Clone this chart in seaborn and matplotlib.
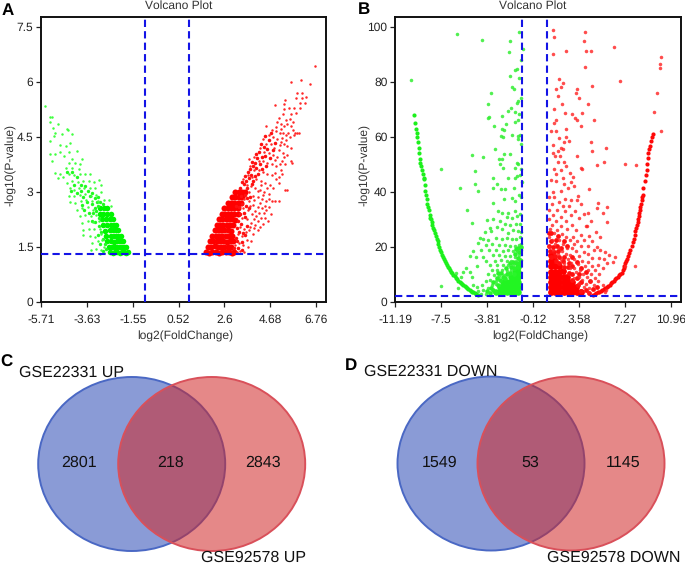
import matplotlib
matplotlib.use("Agg")
import matplotlib.pyplot as plt
from matplotlib.patches import Ellipse
import pandas as pd
import seaborn as sns

# panel A, GSE22331
a_up_core = [
    (1.75,1.35),(1.9,1.34),(2.05,1.36),(2.2,1.35),(2.35,1.34),(2.5,1.36),(2.65,1.35),(2.8,1.35),(2.95,1.34),(3.05,1.36),
    (1.85,1.5),(2.0,1.5),(2.15,1.52),(2.3,1.5),(2.45,1.5),(2.6,1.51),(2.75,1.5),(2.9,1.5),
    (1.95,1.65),(2.1,1.65),(2.25,1.66),(2.4,1.65),(2.55,1.65),(2.7,1.64),(2.85,1.65),(3.0,1.66),
    (2.05,1.8),(2.2,1.8),(2.35,1.81),(2.5,1.8),(2.65,1.8),(2.8,1.79),(2.95,1.8),
    (2.15,1.95),(2.3,1.95),(2.45,1.96),(2.6,1.95),(2.75,1.95),(2.9,1.94),
    (2.25,2.1),(2.4,2.1),(2.55,2.11),(2.7,2.1),(2.85,2.1),(3.0,2.09),
    (2.35,2.25),(2.5,2.25),(2.65,2.26),(2.8,2.25),(2.95,2.25),(3.1,2.24),
    (2.48,2.4),(2.62,2.4),(2.76,2.41),(2.9,2.4),(3.05,2.4),(3.2,2.39),
    (2.6,2.55),(2.75,2.55),(2.9,2.56),(3.05,2.55),(3.2,2.55),
    (2.75,2.7),(2.9,2.7),(3.05,2.71),(3.2,2.7),(3.35,2.7),
    (2.95,2.85),(3.1,2.85),(3.25,2.86),(3.4,2.85),
    (3.1,3.0),(3.25,3.0),(3.4,3.01),(3.55,3.0),
]
a_up_mid = [
    (3.32,3.12),(3.47,3.22),(3.58,3.3),(3.72,3.38),(3.41,3.27),(3.62,3.12),(3.83,3.22),(3.55,3.43),(3.68,3.55),(3.79,3.47),
    (3.9,3.31),(3.98,3.44),(3.75,3.62),(3.88,3.71),(4.02,3.66),(4.12,3.49),(3.83,3.83),(3.97,3.79),(4.08,3.92),(4.23,3.75),
    (4.31,3.62),(4.02,4.03),(4.17,4.08),(4.28,3.96),(4.42,3.97),(4.5,3.72),(4.24,4.3),(4.37,4.22),(4.55,4.17),(4.67,3.93),
    (4.42,4.52),(4.62,4.42),(4.78,4.15),(4.9,4.33),(4.72,4.62),(3.12,2.62),(3.28,2.58),(3.41,2.67),(3.33,2.88),(3.52,2.92),
    (3.63,2.83),(3.58,2.62),(3.77,2.87),(3.22,2.22),(3.31,2.41),(3.48,2.44),(3.18,2.02),(3.37,2.14),(3.55,2.33),(3.72,2.56),
    (3.11,1.74),(3.28,1.92),(3.46,1.88),(3.63,2.08),(3.02,1.47),(3.17,1.67),(3.38,1.63),(3.55,1.82),(3.22,1.47),(3.4,1.42),
]
a_up_scatter = [
    (6.72,6.44),(5.63,6.0),(6.09,6.05),(6.47,5.93),(5.89,5.7),(6.12,5.7),(6.31,5.6),(5.82,5.55),(6.12,5.55),(5.36,5.5),
    (5.29,5.39),(4.88,5.37),(6.0,5.43),(6.27,5.43),(5.51,5.28),(5.74,5.28),(5.29,5.25),(6.04,5.3),(5.26,5.12),(5.6,5.12),
    (5.82,5.16),(5.0,4.9),(5.15,4.85),(5.3,4.8),(5.45,4.85),(5.6,4.8),(5.7,4.7),(4.75,4.7),(4.95,4.65),(5.1,4.6),
    (5.25,4.6),(5.4,4.55),(5.55,4.5),(5.75,4.55),(5.8,4.6),(5.9,4.6),(5.98,4.6),(4.5,4.8),(4.6,4.55),(4.8,4.5),
    (5.0,4.45),(5.15,4.35),(5.3,4.3),(5.45,4.25),(5.6,4.2),(4.35,4.45),(4.5,4.3),(4.7,4.3),(4.85,4.2),(5.05,4.15),
    (5.25,4.05),(5.45,4.0),(5.6,3.85),(5.65,3.8),(4.2,4.2),(4.4,4.1),(4.6,4.05),(4.8,4.0),(5.0,3.95),(5.2,3.85),
    (5.35,3.75),(3.95,3.95),(4.15,3.85),(4.35,3.85),(4.55,3.8),(4.75,3.75),(4.95,3.7),(5.15,3.6),(5.2,3.5),(3.7,3.9),
    (3.75,3.7),(3.95,3.6),(4.15,3.6),(4.35,3.55),(4.55,3.5),(4.75,3.45),(4.95,3.35),(5.05,3.25),(3.65,3.45),(3.85,3.4),
    (4.05,3.35),(4.25,3.3),(4.45,3.25),(4.65,3.2),(4.8,3.1),(5.35,3.05),(5.45,3.05),(3.45,3.35),(3.6,3.2),(3.8,3.15),
    (4.0,3.1),(4.2,3.05),(4.4,3.0),(4.6,2.95),(3.7,3.0),(3.9,2.9),(4.1,2.85),(4.3,2.8),(4.5,2.75),(4.75,2.75),
    (4.9,2.75),(5.05,2.75),(3.5,2.8),(3.7,2.75),(3.9,2.65),(4.1,2.6),(4.3,2.55),(4.5,2.5),(3.45,2.55),(3.65,2.5),
    (3.85,2.4),(4.05,2.35),(4.25,2.3),(4.45,2.3),(4.7,2.4),(3.4,2.3),(3.6,2.25),(3.8,2.15),(4.0,2.1),(4.2,2.05),
    (3.3,2.05),(3.5,2.0),(3.7,1.95),(3.9,1.85),(4.1,1.95),(3.2,1.85),(3.4,1.8),(3.6,1.7),(3.8,1.65),(3.25,1.6),
    (3.45,1.55),(3.65,1.5),(3.1,1.55),(3.3,1.4),(3.5,1.35),(3.15,1.35),
    (4.27,3.18),(4.53,3.12),(4.12,3.02),(4.34,2.92),(4.63,2.82),(3.95,2.77),(4.2,2.71),(4.42,2.63),(4.63,2.6),(3.76,2.62),
    (3.98,2.48),(4.18,2.43),(4.38,2.42),(4.58,2.21),(3.92,2.25),(4.12,2.22),(4.33,2.12),(3.75,2.05),(3.95,2.02),(3.58,1.92),
    (4.9,3.52),(5.08,3.42),(4.88,3.88),(5.12,3.76),(5.28,3.95),(5.1,4.28),(5.22,4.47),(5.38,4.43),(5.5,4.62),(4.93,4.78),
    (5.18,4.72),(5.07,5.02),(5.38,4.95),(5.55,4.98),(5.72,4.92),
]
a_down_core = [
    (-1.75,1.35),(-1.85,1.34),(-1.95,1.36),(-2.05,1.35),(-2.15,1.34),(-2.25,1.36),(-2.35,1.35),(-2.45,1.34),(-2.6,1.36),
    (-1.85,1.5),(-1.95,1.5),(-2.05,1.51),(-2.15,1.5),(-2.25,1.49),(-2.35,1.5),(-2.5,1.5),(-2.65,1.51),
    (-1.98,1.65),(-2.08,1.65),(-2.18,1.66),(-2.28,1.65),(-2.4,1.64),(-2.55,1.65),(-2.7,1.65),
    (-2.1,1.8),(-2.2,1.8),(-2.3,1.81),(-2.42,1.8),(-2.55,1.79),(-2.75,1.8),
    (-2.2,1.95),(-2.32,1.95),(-2.45,1.96),(-2.6,1.95),(-2.8,1.94),
    (-2.3,2.1),(-2.42,2.1),(-2.55,2.11),(-2.72,2.1),(-2.9,2.09),
    (-2.45,2.25),(-2.6,2.25),(-2.78,2.26),(-2.95,2.25),
    (-2.55,2.4),(-2.7,2.4),(-2.88,2.41),(-3.05,2.4),
    (-2.7,2.55),(-2.85,2.55),(-3.05,2.56),
]
a_down_mid = [
    (-3.12,2.62),(-3.28,2.55),(-3.2,2.48),(-3.35,2.42),(-3.1,2.28),(-3.25,2.18),(-3.08,2.08),(-2.98,1.92),(-3.15,1.82),(-2.88,1.72),
    (-2.82,1.58),(-3.02,1.58),(-2.75,1.45),(-2.92,1.38),(-3.18,2.72),(-3.4,2.68),(-3.02,2.72),(-2.9,2.68),(-3.28,2.83),(-3.5,2.9),
    (-3.62,2.72),(-3.12,2.85),(-3.38,2.98),(-3.58,3.02),(-3.82,2.85),(-3.72,3.15),(-3.92,3.02),(-4.1,2.98),(-3.85,2.65),(-3.55,2.42),
    (-3.42,2.22),(-3.75,2.5),(-3.9,3.2),(-4.2,3.2),(-4.35,3.02),(-4.1,3.4),(-4.55,3.55),(-4.3,3.55),
]
a_down_scatter = [
    (-5.51,5.35),(-5.3,5.05),(-5.2,5.05),(-5.32,4.9),(-4.92,4.85),(-5.17,4.75),(-4.53,4.73),(-4.49,4.69),(-5.06,4.62),(-4.3,4.59),
    (-5.14,4.53),(-4.76,4.57),(-5.29,4.39),(-4.83,4.28),(-4.38,4.33),(-4.6,4.25),(-5.29,4.03),(-5.06,4.03),(-4.68,3.98),(-4.46,4.09),
    (-4.08,4.12),(-4.85,4.1),(-5.21,3.85),(-4.3,3.89),(-3.85,3.91),(-4.15,3.8),(-5.06,3.53),(-4.6,3.66),(-4.3,3.66),(-4.0,3.62),
    (-4.45,3.8),(-3.95,3.75),(-4.85,3.5),(-4.95,3.37),(-4.7,3.4),(-4.45,3.5),(-4.2,3.45),(-3.95,3.48),(-3.7,3.5),(-3.5,3.5),
    (-4.55,3.25),(-4.3,3.3),(-4.05,3.28),(-3.8,3.3),(-3.55,3.3),(-3.3,3.28),(-3.1,3.32),(-4.4,3.1),(-4.2,3.05),(-4.0,3.12),
    (-3.75,3.1),(-3.5,3.1),(-3.25,3.1),(-3.0,3.18),(-4.45,2.9),(-4.2,2.88),(-3.95,2.92),(-3.7,2.95),(-3.45,2.9),(-3.2,2.92),
    (-2.98,3.0),(-4.4,2.72),(-4.15,2.7),(-3.9,2.75),(-3.65,2.78),(-3.4,2.75),(-3.15,2.75),(-2.85,2.78),(-2.65,2.78),(-4.1,2.52),
    (-3.85,2.55),(-3.6,2.58),(-3.35,2.52),(-2.55,2.62),(-3.95,2.35),(-3.7,2.38),(-3.45,2.35),(-3.2,2.38),(-3.85,2.15),(-3.6,2.2),
    (-3.35,2.18),(-3.1,2.2),(-3.8,1.95),(-3.55,2.0),(-3.3,1.98),(-3.05,1.98),(-3.8,1.82),(-3.5,1.8),(-3.25,1.78),(-3.0,1.85),
    (-3.4,1.62),(-3.15,1.65),(-2.95,1.68),(-3.45,1.43),(-3.2,1.45),(-3.0,1.42),(-2.85,1.5),(-3.02,1.32),(-2.85,1.34),
]

# panel B, GSE92578
b_down_curve = [
    (-9.67,68),(-9.6,65),(-9.5,63),(-9.45,61.6),(-9.42,60),(-9.38,58),(-9.3,56),(-9.25,54),(-9.18,51.9),(-9.15,50.5),
    (-9.12,49.5),(-9.05,48),(-8.95,46.5),(-8.9,45),(-8.86,44.6),(-8.8,42.5),(-8.75,40.5),(-8.7,39),(-8.65,37.3),(-8.6,35.5),
    (-8.55,34.5),(-8.5,33.5),(-8.42,31.5),(-8.36,30.7),(-8.3,30),(-8.25,29),(-8.2,28),(-8.12,27),(-8.06,26),(-8.0,25),
    (-7.92,24),(-7.85,23),(-7.77,22),(-7.7,21),(-7.62,20),(-7.55,19),(-7.47,18),(-7.4,17.2),(-7.32,16.4),(-7.25,15.6),
    (-7.18,14.9),(-7.1,14.2),(-7.02,13.5),(-6.95,12.9),(-6.88,12.3),(-6.8,11.7),(-6.7,11),(-6.6,10.4),(-6.5,9.8),(-6.4,9.3),
    (-6.3,8.7),(-6.2,8.2),(-6.1,7.7),(-6.0,7.3),(-5.9,6.9),(-5.8,6.5),(-5.7,6.1),(-5.6,5.7),(-5.5,5.3),(-5.4,5.0),
    (-5.3,4.6),(-5.2,4.3),(-5.1,4.05),(-5.0,3.8),(-4.9,3.5),(-4.8,3.2),(-4.68,2.95),(-4.55,2.7),
]
b_down_core = [
    (-1.32,3.5),(-1.6,3.5),(-1.9,3.5),(-2.2,3.5),(-2.5,3.5),(-2.8,3.5),(-3.1,3.5),
    (-1.32,5.3),(-1.6,5.3),(-1.9,5.3),(-2.2,5.3),(-2.5,5.3),(-2.8,5.5),
    (-1.32,7.2),(-1.6,7.2),(-1.9,7.2),(-2.2,7.2),(-2.5,7.4),
    (-1.32,9),(-1.6,9),(-1.9,9),(-1.32,11),(-1.6,11),(-1.32,12.8),
]
b_down_mid = [
    (-3.6,3.4),(-3.35,4.4),(-3.15,3.8),(-2.9,6.2),(-2.75,8.1),(-2.55,9.1),(-2.35,8.6),(-2.2,10.3),(-1.95,10.4),(-1.65,10.2),
    (-1.65,12.3),(-1.85,12.6),(-1.35,12.6),(-1.25,14.3),(-1.5,14.2),(-1.7,14.4),(-2.0,14.3),(-1.12,15.2),(-1.32,16),(-1.55,17.5),
    (-1.2,18),(-1.35,19.5),(-1.1,20),(-1.5,19.2),(-3.3,7.4),(-3.0,8.9),(-3.5,5.1),(-3.8,4),(-2.7,10.5),(-2.3,12.4),
    (-2.9,10.6),
]
b_down_scatter = [
    (-6.19,97.3),(-4.21,95.3),(-1.24,98.2),(-1.99,94.7),(-2.05,90.7),(-0.95,92),(-1.1,87.9),(-1.37,84.8),(-1.56,84.4),(-9.93,80.6),
    (-1.99,82.2),(-1.24,81.5),(-1.83,78.3),(-1.67,77.6),(-3.52,75.8),(-1.1,74.1),(-1.3,73),(-3.76,72.1),(-1.43,72.5),(-1.88,70.7),
    (-2.15,69.3),(-2.63,67.6),(-3.65,67.4),(-3.76,66.8),(-1.56,69),(-1.2,68.2),(-2.31,64.6),(-3.22,63.8),(-2.63,62.8),(-2.42,62.5),
    (-1.56,65.5),(-1.3,66),(-2.69,60.4),(-1.83,60.7),(-1.35,60.4),(-1.17,60.7),(-2.5,59.8),(-1.3,59.2),(-3.17,55.5),(-1.1,57.3),
    (-5.04,53.5),(-2.42,53.7),(-1.94,53.9),(-4.1,52.7),(-2.82,52.1),(-2.58,52.1),(-7.5,48.5),(-1.43,50.7),(-1.3,50),(-2.77,50),
    (-2.5,48.8),(-1.56,48.8),(-4.77,47.6),(-1.07,48.2),(-1.37,45.8),(-1.15,46),(-3.36,45.2),(-2.15,45.2),(-1.6,45),(-1,43.8),
    (-4.77,42.8),(-3.04,42.8),(-2.37,41),(-5.98,41.3),(-3.36,41.3),(-2.69,41.2),(-4.5,40.4),(-1.65,41.5),(-2.42,37.3),(-1.83,37.9),
    (-1.56,36.7),(-3.3,35.9),(-1.05,38),(-1.25,39),(-5.44,33.5),(-2.9,33.1),(-2.63,32.5),(-2.1,32.5),(-1.56,33),(-1.43,31.3),
    (-1.83,30.6),(-2.24,31),(-1.15,32),(-5.04,28.8),(-3.84,29.7),(-3.3,30),(-2.77,29.5),(-2.35,28.5),(-1.95,28),(-1.5,28.5),
    (-1.15,28.5),(-3.55,27),(-3.0,27.3),(-2.6,26.5),(-1.7,26),(-1.3,25.8),(-4.0,25.5),(-3.45,25.7),(-2.1,25),(-1.05,25.5),
    (-4.4,23.3),(-4.1,23),(-3.7,22.5),(-3.1,23.3),(-2.6,23),(-2.2,23.2),(-1.8,22.8),(-1.45,23),(-1.15,23.5),(-4.55,21.5),
    (-3.9,20.7),(-3.4,21),(-2.85,20.8),(-2.4,20.7),(-2.0,20.3),(-1.6,20.5),(-1.25,20.7),(-1.05,21),(-4.9,18.5),(-4.3,18.8),
    (-3.65,19),(-3.05,18.8),(-2.55,18.5),(-2.15,18.8),(-1.75,18.5),(-1.4,18.7),(-1.1,19),(-5.2,16.7),(-4.7,16.2),(-4.1,16.5),
    (-3.35,17),(-2.85,17),(-2.35,16.7),(-1.95,16.8),(-1.6,16.5),(-1.25,17),(-3.9,15),(-3.2,15),(-2.7,15.3),(-2.2,15),
    (-1.85,15),(-1.45,15),(-1.08,15.3),(-5.5,12.5),(-4.6,13),(-3.6,13.3),(-3.0,13.5),(-2.5,13.3),(-2.1,13.4),(-1.7,13.5),
    (-6.3,10.5),(-5.7,11),(-5.2,11),(-3.4,11.5),(-3.0,11.5),(-2.6,11.5),(-2.2,11.3),(-1.85,11.6),(-5.9,9),(-5.0,9),
    (-3.7,10),(-3.25,9.8),(-2.85,9.5),(-2.45,9.8),(-7.5,5.7),(-6.1,5.2),(-4.9,6),(-4.6,5.6),(-4.2,6.2),(-3.85,7.8),
    (-3.55,8),(-3.1,7.8),(-4.5,4),(-4.1,4.5),(-3.7,5),(-3.4,6.2),(-3.1,6.4),(-4.3,3),(-3.9,2.8),(-3.6,2.6),
]
b_up_curve = [
    (4.7,2.7),(4.82,2.95),(4.95,3.2),(5.08,3.5),(5.2,3.8),(5.32,4.15),(5.45,4.5),(5.58,4.85),(5.7,5.2),(5.8,5.5),
    (5.92,5.8),(6.03,6.35),(6.15,6.9),(6.25,7.35),(6.35,7.8),(6.45,8.2),(6.55,8.6),(6.68,9.2),(6.8,9.8),(6.9,10.2),
    (7.0,10.7),(7.08,11.5),(7.15,12.3),(7.22,13.1),(7.3,14),(7.38,14.8),(7.45,15.7),(7.52,16.7),(7.6,17.8),(7.7,19),
    (7.8,20.4),(7.88,21.7),(7.95,23),(8.03,24.4),(8.1,25.8),(8.16,27),(8.22,28),(8.28,29),(8.33,30),(8.38,31.2),
    (8.42,32.5),(8.46,33.5),(8.5,34.5),(8.55,35.7),(8.6,37),(8.64,38),(8.68,39),(8.75,41.5),(8.85,44),(8.92,46),
    (9.0,48),(9.05,50),(9.12,52.5),(9.15,54),(9.22,55.5),(9.27,56.7),(9.32,58.5),(9.4,60),(9.48,61),
]
b_up_core = [
    (1.32,3.5),(1.65,3.5),(2.0,3.5),(2.35,3.5),(2.7,3.5),(3.05,3.5),(3.4,3.5),(3.7,3.6),
    (1.32,5.3),(1.65,5.3),(2.0,5.3),(2.35,5.3),(2.7,5.3),(3.05,5.3),(3.35,5.4),
    (1.32,7.2),(1.65,7.2),(2.0,7.2),(2.35,7.2),(2.7,7.2),(3.0,7.3),
    (1.32,9),(1.65,9),(2.0,9),(2.35,9),(2.65,9.2),
    (1.32,11),(1.65,11),(2.0,11),(2.3,11.2),
    (1.32,13),(1.65,13),(1.95,13.2),(1.32,15),(1.55,15.2),(1.32,17),
]
b_up_mid = [
    (3.75,4.1),(4.1,4.4),(4.35,3.2),(3.5,6.3),(3.7,7.3),(3.05,8.1),(3.4,8.6),(2.75,10.5),(3.05,10.3),(2.4,12.6),
    (2.7,12.7),(2.0,14.3),(2.3,14.8),(1.75,15),(1.3,16.2),(1.65,16.8),(2.0,16.5),(1.25,18.5),(1.55,18),(1.85,18.7),
    (2.35,16.5),(2.75,14),(3.05,13),(1.2,20.5),(1.5,20),(1.8,20.5),(2.15,19.8),(1.3,22),(1.7,22.7),(1.15,25),
    (1.35,25),(1.9,24),(2.6,20.5),(2.4,22),(3.0,16.5),(3.4,14.5),(3.75,12.5),(4.1,11),(3.6,10),(4.45,7.5),
    (4.7,4.8),(5.05,5.5),
]
b_up_scatter = [
    (1.45,98.8),(1.6,96.5),(4.05,98.3),(4.0,94.7),(6.4,92.8),(1.45,90),(2.5,91.4),(4.1,91.4),(4.55,91.4),(4.07,85.5),
    (10.15,89),(10.07,86.4),(10.07,85.2),(9.85,75.8),(9.61,69),(10.17,62),(6.85,80.3),(2.0,81),(2.3,79.5),(1.7,77.5),
    (2.1,78),(4.6,78.5),(3.4,77.4),(3.3,76),(3.6,74),(1.85,74.8),(2.2,72),(4.3,72),(1.6,70),(2.45,68.8),
    (3.0,68.5),(3.25,67),(3.45,66),(3.85,68.7),(4.75,66.3),(1.7,66),(1.6,65),(3.7,64),(2.5,62.8),(1.35,62.3),
    (1.7,62),(1.95,59.5),(2.55,60),(1.5,57),(2.8,58.5),(2.4,58),(4.55,58),(2.1,56),(2.3,55.5),(5.75,56),
    (4.6,54.8),(1.85,54.8),(1.5,54),(1.65,53),(2.05,53),(3.4,53),(2.35,51),(1.85,51),(5.55,51),(7.3,50),
    (8.15,49.7),(5.0,49.7),(2.55,49.5),(3.7,48.8),(1.55,48.5),(3.8,48.5),(2.15,48),(2.85,47),(1.75,46.5),(3.1,45.5),
    (2.3,45),(1.35,44.5),(1.75,44),(2.95,43.5),(2.4,43),(3.2,42),(2.7,41.5),(4.4,41),(1.5,40),(2.1,40.5),
    (3.5,38.5),(1.2,38),(1.6,38),(2.45,37.5),(2.95,37),(3.4,37),(2.0,36.5),(5.1,36),(1.4,35.5),(2.3,35),
    (2.75,35),(3.7,35.5),(5.85,34.5),(5.05,34),(1.2,33.5),(1.8,33.5),(2.45,33),(3.25,33),(4.3,32.5),(3.95,32),
    (5.5,32.5),(1.5,31.5),(2.15,31),(2.9,31.5),(3.6,30.5),(1.2,30),(1.75,29.5),(2.55,29.5),(4.55,29.5),(5.85,29),
    (1.4,28),(2.1,27.5),(3.0,28),(4.1,27.5),(4.25,27.8),(1.25,26.5),(1.8,26.3),(2.6,26.5),(3.35,26),(4.95,25.5),
    (1.6,25),(2.2,24.8),(3.75,24.5),(4.4,24),(1.15,23.7),(2.55,23.5),(3.1,23.5),(5.3,23.8),(1.4,22.5),(1.95,22.5),
    (2.85,22.5),(3.45,22),(4.0,22.5),(4.6,22),(1.65,21),(2.3,21),(3.2,21),(3.7,20.5),(4.3,20.5),(5.05,20),
    (1.2,20),(1.95,19.8),(2.6,19.8),(3.0,19.5),(4.75,19),(5.3,19),(5.65,18),(1.45,18.8),(2.2,18.5),(3.35,18.5),
    (3.95,18),(4.3,17.5),(6.0,17),(6.5,16.5),(1.9,17.3),(2.5,17.3),(2.85,17),(3.6,16.7),(4.6,16),(5.15,16),
    (5.55,15.5),(2.1,15.5),(2.7,15.7),(3.2,15.5),(3.85,15),(4.3,14.5),(5.85,14),(6.3,14.5),(2.4,14),(2.95,14),
    (3.5,13.7),(4.05,13),(4.65,13),(5.1,13.5),(5.5,12.5),(7.3,13),(8.1,13),(2.85,12.5),(3.2,12.2),(3.65,11.7),
    (4.3,11.5),(4.85,11.5),(3.3,10.8),(3.9,10.2),(4.55,10.3),(5.2,10),(3.55,9.2),(4.2,9),(4.85,8.8),(3.2,8.8),
    (3.8,8),(4.45,7.7),(5.1,7.5),(3.6,6.8),(4.1,6.5),(4.75,6.3),(5.5,6),(3.95,5.4),(4.4,5),(5.75,4.5),
    (4.3,3.7),(5.7,3.6),
]

a_xticks = [-5.71, -3.63, -1.55, 0.52, 2.6, 4.68, 6.76]
a_xlabels = ["-5.71", "-3.63", "-1.55", "0.52", "2.6", "4.68", "6.76"]
a_yticks = [0, 1.5, 3, 4.5, 6, 7.5]
a_ylabels = ["0", "1.5", "3", "4.5", "6", "7.5"]
b_xticks = [-11.19, -7.5, -3.81, -0.12, 3.58, 7.27, 10.96]
b_xlabels = ["-11.19", "-7.5", "-3.81", "-0.12", "3.58", "7.27", "10.96"]
b_yticks = [0, 20, 40, 60, 80, 100]

venn_c_counts = ["2801", "218", "2843"]
venn_d_counts = ["1549", "53", "1145"]

sns.set_style("ticks")
plt.rcParams["font.family"] = ["Liberation Sans", "DejaVu Sans"]
plt.rcParams["text.hinting"] = "no_hinting"
plt.rcParams["text.hinting_factor"] = 1
TICK_SIZE = 8.7
LABEL_SIZE = 11.5
DARK = "#222222"

fig = plt.figure(figsize=(6.85, 5.65), dpi=100)


def add_panel(left, top, width, height):
    return fig.add_axes([left / 685, 1 - (top + height) / 565, width / 685, height / 565])


def draw_points(ax, points, color, size, alpha=1.0, marker="o"):
    df = pd.DataFrame(points, columns=["log2fc", "logp"])
    sns.scatterplot(data=df, x="log2fc", y="logp", color=color, s=size, alpha=alpha,
                    marker=marker, linewidth=0, ax=ax, legend=False)


def style_volcano(ax, xlim, ylim, xticks, xlabels, yticks, ylabels, vlines, hline):
    for x in vlines:
        ax.axvline(x, color="#1414e6", lw=1.5, dashes=(3.5, 2), zorder=5)
    ax.axhline(hline, color="#1414e6", lw=1.5, dashes=(3.5, 2), zorder=5)
    ax.set_xlim(xlim)
    ax.set_ylim(ylim)
    ax.set_xticks(xticks)
    ax.set_xticklabels(xlabels)
    ax.set_yticks(yticks)
    ax.set_yticklabels(ylabels)
    ax.tick_params(labelsize=TICK_SIZE, length=3.5, width=0.9, colors=DARK)
    ax.tick_params(axis="x", pad=5)
    ax.tick_params(axis="y", pad=2)
    ax.set_xlabel("")
    ax.set_ylabel("")
    for spine in ax.spines.values():
        spine.set_visible(True)
        spine.set_linewidth(1.4)
        spine.set_color("#111111")


ax_a = add_panel(41, 17, 285, 285)
draw_points(ax_a, a_up_core, "#ff0000", 19)
draw_points(ax_a, a_up_mid, "#ff1010", 6.5)
draw_points(ax_a, a_up_scatter, "#ff2828", 3.2)
draw_points(ax_a, a_down_core, "#00f500", 16)
draw_points(ax_a, a_down_mid, "#20fa20", 6)
draw_points(ax_a, a_down_scatter, "#40ff40", 3.2)
style_volcano(ax_a, (-5.71, 7.2), (0, 7.77), a_xticks, a_xlabels, a_yticks, a_ylabels, (-1, 1), 1.31)

ax_b = add_panel(395, 17, 286, 285)
draw_points(ax_b, b_down_core, "#22f522", 22)
draw_points(ax_b, b_down_mid, "#2af52a", 11)
draw_points(ax_b, b_down_curve, "#1cf01c", 9)
draw_points(ax_b, b_down_scatter, "#33ee33", 6.5, alpha=0.85)
draw_points(ax_b, b_up_core, "#ff0000", 24)
draw_points(ax_b, b_up_mid, "#ff1010", 12)
draw_points(ax_b, b_up_curve, "#ff0808", 9)
draw_points(ax_b, b_up_scatter, "#ff2020", 6.5, alpha=0.8)
style_volcano(ax_b, (-11.19, 11.76), (0, 103.6), b_xticks, b_xlabels, b_yticks,
              [str(v) for v in b_yticks], (-1, 1), 2)

# overlay in pixel units for the venns and free text
ov = fig.add_axes([0, 0, 1, 1], zorder=10)
ov.set_xlim(0, 685)
ov.set_ylim(565, 0)
ov.axis("off")
ov.patch.set_alpha(0)


def venn(cx_left, cx_right, cy, counts, count_x):
    ov.add_patch(Ellipse((cx_left, cy), 187, 174, fc=(60 / 255, 88 / 255, 187 / 255, 0.6),
                         ec="#4a68c4", lw=1.4))
    ov.add_patch(Ellipse((cx_right, cy), 187, 174, fc=(208 / 255, 39 / 255, 39 / 255, 0.55),
                         ec="#d9505a", lw=1.4))
    for label, x in zip(counts, count_x):
        ov.text(x, cy - 1, label, fontsize=11.7, ha="center", va="center", color="#111111")


venn(131.7, 211.7, 464, venn_c_counts, (79, 170.5, 263))
venn(491, 571, 463.5, venn_d_counts, (440, 530.5, 623))

ov.text(19, 373, "GSE22331 UP", fontsize=LABEL_SIZE, va="center", color="#111111")
ov.text(201, 558, "GSE92578 UP", fontsize=LABEL_SIZE, va="center", color="#111111")
ov.text(364, 372, "GSE22331 DOWN", fontsize=LABEL_SIZE, va="center", color="#111111")
ov.text(547, 558, "GSE92578 DOWN", fontsize=LABEL_SIZE, va="center", color="#111111")

for label, x, y in [("A", 2, 11), ("B", 358, 10), ("C", 0, 362), ("D", 345, 366)]:
    ov.text(x, y, label, fontsize=12, fontweight="bold", va="center", color="black")

for cx in (179, 533):
    ov.text(cx, 6, "Volcano Plot", fontsize=TICK_SIZE, ha="center", va="center", color="#333333")
for cx in (185, 540):
    ov.text(cx, 336, "log2(FoldChange)", fontsize=TICK_SIZE, ha="center", va="center", color="#333333")
for cx in (11, 365):
    ov.text(cx, 165, "-log10(P-value)", fontsize=TICK_SIZE, rotation=90, ha="center", va="center", color="#333333")

fig.savefig("out.png", dpi=100)
